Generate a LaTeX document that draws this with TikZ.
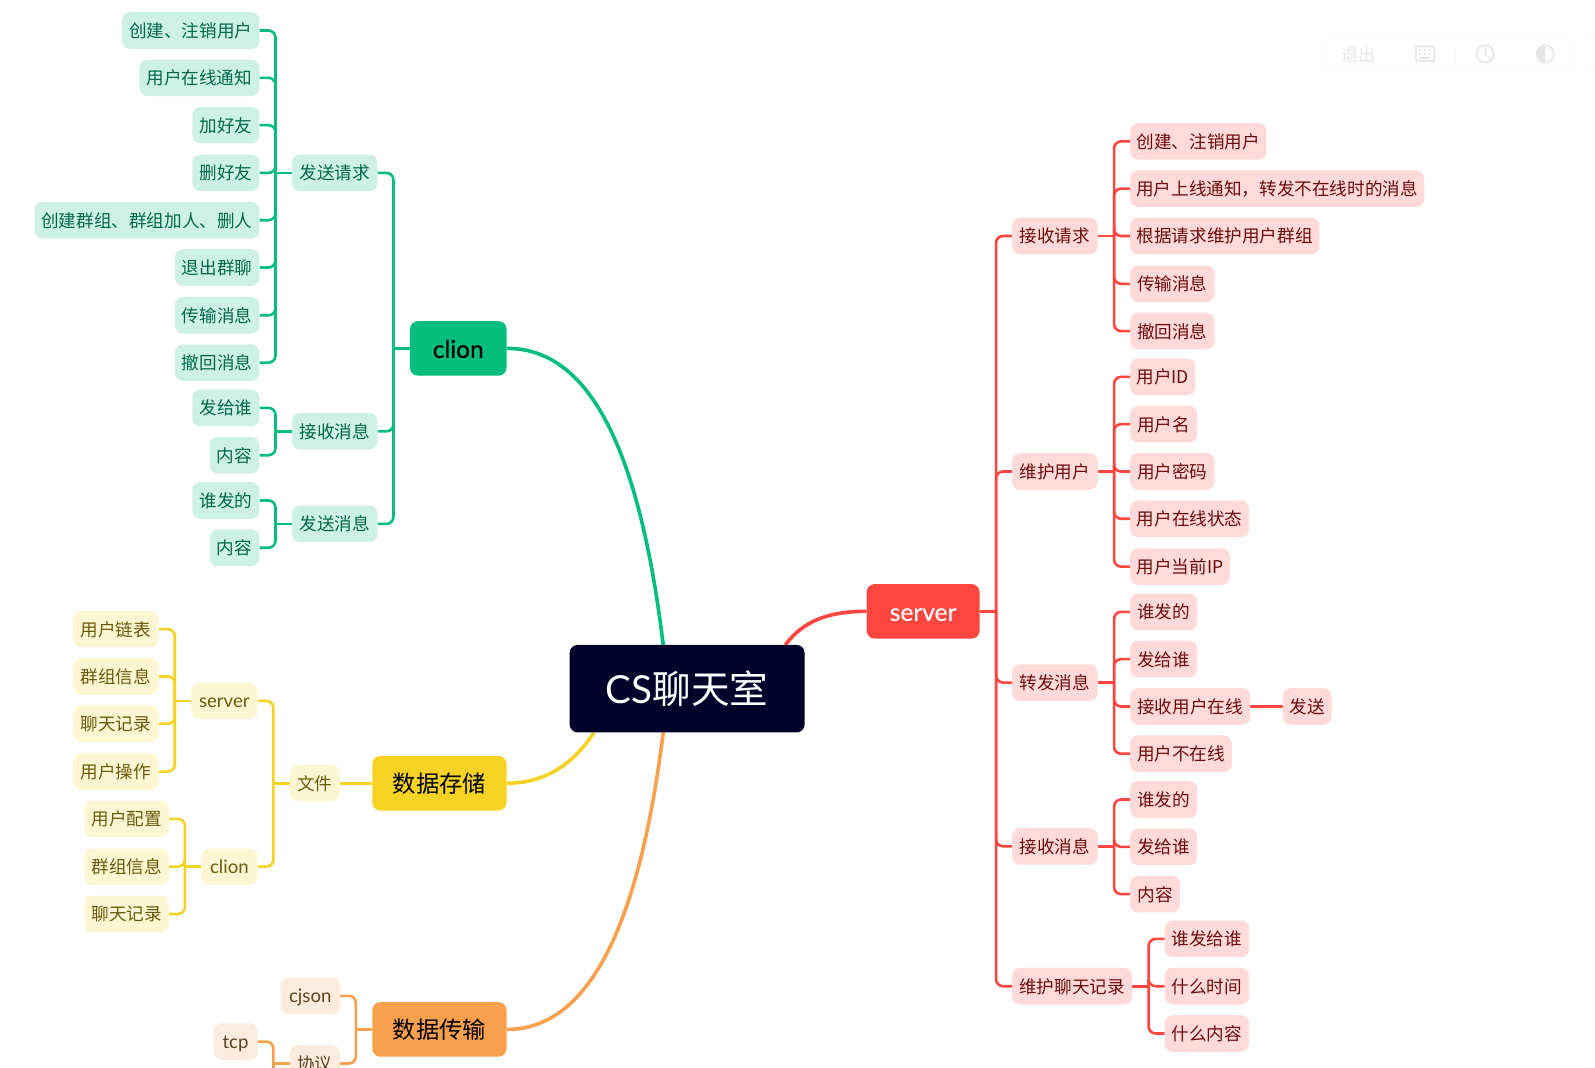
\documentclass[tikz,border=0pt]{standalone}
\usepackage{fontspec}
\setmainfont{Noto Sans CJK SC}
\newfontfamily\lat{Lato}
\newfontfamily\latm[FakeBold=0.25]{Lato}
\usetikzlibrary{calc,backgrounds}
\definecolor{gl}{HTML}{05BD7C}\definecolor{gb}{HTML}{CEF1E5}\definecolor{gt}{HTML}{02684A}
\definecolor{rl}{HTML}{FF453F}\definecolor{rb}{HTML}{FFDAD9}\definecolor{rt}{HTML}{6D0C0C}
\definecolor{yl}{HTML}{F5D223}\definecolor{yb}{HTML}{FDF6D3}\definecolor{yt}{HTML}{6B5A0B}
\definecolor{ol}{HTML}{F9A04D}\definecolor{ob}{HTML}{FDECDD}\definecolor{ot}{HTML}{5E3F1E}
\definecolor{navy}{HTML}{000028}
\definecolor{faint}{HTML}{E6E6E6}\definecolor{fainter}{HTML}{FAFAFA}
\tikzset{
  pill/.style={rounded corners=8pt,inner sep=0pt,minimum height=36.6pt,align=center,
    font=\fontsize{17.6}{20}\selectfont,text height=16pt,text depth=2pt},
  gk/.style={pill,fill=gb,text=gt},
  rk/.style={pill,fill=rb,text=rt},
  yk/.style={pill,fill=yb,text=yt},
  ok/.style={pill,fill=ob,text=ot},
  mainbox/.style={rounded corners=8pt,inner sep=0pt,minimum height=54.5pt,align=center,
    font=\fontsize{23.3}{26}\selectfont,text height=21pt,text depth=2pt},
  gm/.style={mainbox,fill=gl,text=black},
  rm/.style={mainbox,fill=rl,text=white},
  ym/.style={mainbox,fill=yl,text=black},
  om/.style={mainbox,fill=ol,text=black},
  rootbox/.style={rounded corners=8pt,inner sep=0pt,fill=navy,text=white,align=center,
    font=\fontsize{38.6}{42}\selectfont},
  blink/.style={line width=2.6pt},
  mlink/.style={line width=3.6pt},
}
% small and main Latin labels
\newcommand\ls[1]{{\lat\fontsize{18.6}{20}\selectfont #1}}
\newcommand\lm[1]{{\latm\fontsize{24.5}{26}\selectfont #1}}
% style, name, left, right, centre y, text
\newcommand\nd[6]{\node[#1,minimum width={(#4-#3)*1.0172pt}] (#2) at ({(#3+#4)/2},#5) {#6};}
% colour, parent, kids: bus to the left
\newcommand\lbus[3]{%
  \draw[blink,#1] (#2.west) -- ++(-16,0);
  \foreach \k in {#3}{\draw[blink,#1,rounded corners=7pt] (\k.east) -| ($(#2.west)+(-16,0)$);}}
\newcommand\rbus[3]{%
  \draw[blink,#1] (#2.east) -- ++(16,0);
  \foreach \k in {#3}{\draw[blink,#1,rounded corners=7pt] (\k.west) -| ($(#2.east)+(16,0)$);}}
\begin{document}
\begin{tikzpicture}[x=1.0172pt,y=-1.0172pt]
\useasboundingbox (0,0) rectangle (1568,1049);
\clip (0,0) rectangle (1568,1049);

% toolbar
\draw[fainter,fill=white,rounded corners=5pt] (1300,37) rectangle (1547,69);
\draw[fainter,fill=white,rounded corners=5pt] (1557,37) rectangle (1600,69);
\node[text=faint,font=\fontsize{17}{20}\selectfont,inner sep=0pt] (quit) at (1335,54) {退出};
\foreach \sx in {1372,1431,1490}{\draw[fainter,line width=1pt] (\sx,45) -- (\sx,61);}
\draw[faint,line width=1.6pt,rounded corners=1pt] (1392,45.5) rectangle (1410,60);
\foreach \kx in {1396,1401,1406}{\fill[faint] (\kx-1,48.5) rectangle (\kx+1,50.5);\fill[faint] (\kx-1,52) rectangle (\kx+1,54);}
\fill[faint] (1396,56) rectangle (1406,58);
\draw[faint,line width=1.8pt] (1460,53) circle (8.5);
\draw[faint,line width=1.4pt] (1460,47.5) -- (1460,53) -- (1464,57);
\draw[faint,line width=1.6pt] (1519,53) circle (8.5);
\fill[faint] (1519,44.5) arc[start angle=-90,end angle=-270,radius=8.5] -- cycle;

% root
\node[rootbox,minimum width={231*1.0172pt},minimum height={86*1.0172pt}] (root) at (675.5,677) {{\lat CS}聊天室};

% clion (green)
\nd{gm}{clion}{403}{498}{342.5}{\lm{clion}}
\nd{gk}{g1}{287}{371}{170}{发送请求}
\nd{gk}{g1a}{120}{255}{30}{创建、注销用户}
\nd{gk}{g1b}{137}{255}{76.5}{用户在线通知}
\nd{gk}{g1c}{189}{255}{123}{加好友}
\nd{gk}{g1d}{189}{255}{170}{删好友}
\nd{gk}{g1e}{34}{255}{216.5}{创建群组、群组加人、删人}
\nd{gk}{g1f}{172}{255}{263}{退出群聊}
\nd{gk}{g1g}{172}{255}{310}{传输消息}
\nd{gk}{g1h}{172}{255}{356.5}{撤回消息}
\nd{gk}{g2}{287}{371}{424}{接收消息}
\nd{gk}{g2a}{189}{255}{401}{发给谁}
\nd{gk}{g2b}{206}{255}{447.5}{内容}
\nd{gk}{g3}{287}{371}{515}{发送消息}
\nd{gk}{g3a}{189}{255}{492}{谁发的}
\nd{gk}{g3b}{206}{255}{538.5}{内容}

% server (red)
\nd{rm}{server}{852}{963}{601}{\lm{server}}
\nd{rk}{r1}{995}{1079}{232}{接收请求}
\nd{rk}{r1a}{1111}{1245}{139}{创建、注销用户}
\nd{rk}{r1b}{1111}{1400}{185.5}{用户上线通知，转发不在线时的消息}
\nd{rk}{r1c}{1111}{1297}{232}{根据请求维护用户群组}
\nd{rk}{r1d}{1111}{1194}{279}{传输消息}
\nd{rk}{r1e}{1111}{1194}{325.5}{撤回消息}
\nd{rk}{r2}{995}{1079}{463.5}{维护用户}
\nd{rk}{r2a}{1111}{1175}{370.5}{用户ID}
\nd{rk}{r2b}{1111}{1177}{417}{用户名}
\nd{rk}{r2c}{1111}{1194}{463.5}{用户密码}
\nd{rk}{r2d}{1111}{1228}{510}{用户在线状态}
\nd{rk}{r2e}{1111}{1209}{557}{用户当前IP}
\nd{rk}{r3}{995}{1079}{671}{转发消息}
\nd{rk}{r3a}{1111}{1177}{601.5}{谁发的}
\nd{rk}{r3b}{1111}{1177}{648}{发给谁}
\nd{rk}{r3c}{1111}{1229}{694.5}{接收用户在线}
\nd{rk}{r3d}{1111}{1211}{741}{用户不在线}
\nd{rk}{r3e}{1261}{1309}{694.5}{发送}
\nd{rk}{r4}{995}{1079}{832}{接收消息}
\nd{rk}{r4a}{1111}{1177}{786}{谁发的}
\nd{rk}{r4b}{1111}{1177}{832.5}{发给谁}
\nd{rk}{r4c}{1111}{1160}{879}{内容}
\nd{rk}{r5}{995}{1113}{969.5}{维护聊天记录}
\nd{rk}{r5a}{1145}{1228}{923}{谁发给谁}
\nd{rk}{r5b}{1145}{1228}{969.5}{什么时间}
\nd{rk}{r5c}{1145}{1228}{1016}{什么内容}

% storage (yellow)
\nd{ym}{store}{366}{498}{770}{数据存储}
\nd{yk}{y1}{285}{334}{770}{文件}
\nd{yk}{y2}{188}{253}{689}{\ls{server}}
\nd{yk}{y2a}{72}{156}{618.5}{用户链表}
\nd{yk}{y2b}{72}{156}{665}{群组信息}
\nd{yk}{y2c}{72}{156}{711.5}{聊天记录}
\nd{yk}{y2d}{72}{156}{758.5}{用户操作}
\nd{yk}{y3}{198}{253}{852}{\ls{clion}}
\nd{yk}{y3a}{83}{166}{805}{用户配置}
\nd{yk}{y3b}{83}{166}{852}{群组信息}
\nd{yk}{y3c}{83}{166}{898.5}{聊天记录}

% transport (orange)
\nd{om}{trans}{366}{498}{1012}{数据传输}
\nd{ok}{o1}{276}{334}{979}{\ls{cjson}}
\nd{ok}{o2}{285}{334}{1045.5}{协议}
\nd{ok}{o2a}{210}{253}{1024}{\ls{tcp}}

\coordinate (gEnd) at (652,634);
\coordinate (oEnd) at (652,720);
\coordinate (yEnd) at (584,720);
\coordinate (rEnd) at (772,634);
\coordinate (busTail) at (269,1060);

\begin{scope}[on background layer]
\draw[mlink,gl] (clion.east) .. controls (590,342) and (632,470) .. (gEnd);
\draw[mlink,rl] (server.west) .. controls (815,601) and (790,610) .. (rEnd);
\draw[mlink,yl] (store.east) .. controls (535,770) and (563,752) .. (yEnd);
\draw[mlink,ol] (trans.east) .. controls (590,1012) and (632,880) .. (oEnd);

\lbus{gl}{clion}{g1,g2,g3}
\lbus{gl}{g1}{g1a,g1b,g1c,g1d,g1e,g1f,g1g,g1h}
\lbus{gl}{g2}{g2a,g2b}
\lbus{gl}{g3}{g3a,g3b}

\rbus{rl}{server}{r1,r2,r3,r4,r5}
\rbus{rl}{r1}{r1a,r1b,r1c,r1d,r1e}
\rbus{rl}{r2}{r2a,r2b,r2c,r2d,r2e}
\rbus{rl}{r3}{r3a,r3b,r3c,r3d}
\rbus{rl}{r4}{r4a,r4b,r4c}
\rbus{rl}{r5}{r5a,r5b,r5c}
\draw[blink,rl] (r3c.east) -- (r3e.west);

\draw[blink,yl] (store.west) -- (y1.east);
\lbus{yl}{y1}{y2,y3}
\lbus{yl}{y2}{y2a,y2b,y2c,y2d}
\lbus{yl}{y3}{y3a,y3b,y3c}

\lbus{ol}{trans}{o1,o2}
\lbus{ol}{o2}{o2a}
\draw[blink,ol] ($(o2.west)+(-16,0)$) -- (busTail);
\end{scope}
\end{tikzpicture}
\end{document}
